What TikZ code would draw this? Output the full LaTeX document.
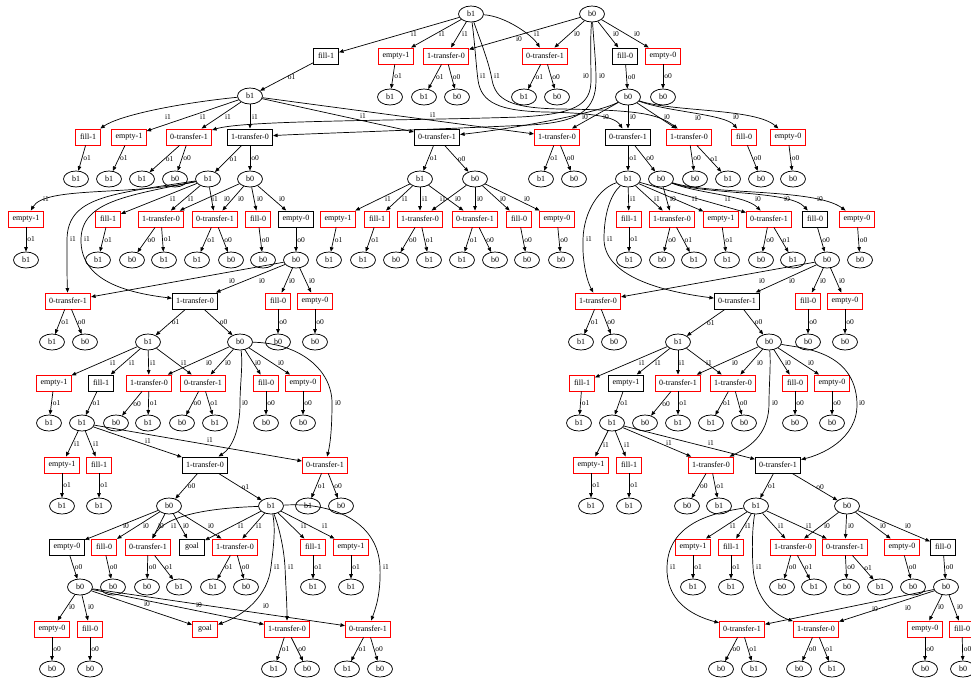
\documentclass[tikz,border=0pt]{standalone}
\usepackage{fontspec}
\setmainfont{Liberation Serif}
\usetikzlibrary{arrows.meta,shapes.geometric}
\newcommand\nfont{\fontsize{8}{9}\selectfont}
\newcommand\lfont{\fontsize{7.5}{8}\selectfont}
\newcommand\inE[4]{\draw[e] (#1) -- (#2) node[lb] at (#3) {#4};}
\newcommand\outE[3]{\draw[e] (#1) -- node[ol] {#3} (#2);}
\tikzset{
 st/.style={ellipse, draw, line width=0.75pt, minimum width=25pt, minimum height=16pt, inner sep=0pt, font=\nfont},
 bk/.style={rectangle, draw, line width=1pt, minimum width=25pt, minimum height=16pt, inner xsep=3.8pt, inner ysep=0pt, font=\nfont},
 rd/.style={bk, draw=red, line width=0.9pt},
 e/.style={-{Triangle[length=4.5pt,width=3.6pt]}, line width=0.7pt},
 lb/.style={font=\lfont, inner sep=0.5pt},
 ol/.style={lb, anchor=west, pos=0.5, xshift=0.5pt},
}
\begin{document}
\begin{tikzpicture}[x=1pt,y=-1pt]
\fill[white] (0,0) rectangle (971,678);
\useasboundingbox (0,0) rectangle (971,678);
% ---------- nodes: top ----------
\node[st] (R1) at (471,14) {b1};
\node[st] (R0) at (592,14) {b0};
\node[bk] (a1) at (326,56) {fill-1};
\node[rd] (a2) at (396,56) {empty-1};
\node[rd] (a3) at (446,56) {1-transfer-0};
\node[rd] (a4) at (545,56) {0-transfer-1};
\node[bk] (a5) at (625,56) {fill-0};
\node[rd] (a6) at (663,56) {empty-0};
\node[st] (L1) at (250,96) {b1};
\node[st] (s2) at (390,97) {b1};
\node[st] (s3a) at (424,97) {b1};
\node[st] (s3b) at (457,97) {b0};
\node[st] (s4a) at (524,97) {b1};
\node[st] (s4b) at (557,97) {b0};
\node[st] (M0) at (628,97) {b0};
\node[st] (s6) at (663,97) {b0};
\node[rd] (t1) at (88,137) {fill-1};
\node[rd] (t2) at (129,137) {empty-1};
\node[rd] (t3) at (189,137) {0-transfer-1};
\node[bk] (t4) at (250,137) {1-transfer-0};
\node[bk] (t5) at (437,137) {0-transfer-1};
\node[rd] (t6) at (557,137) {1-transfer-0};
\node[bk] (t7) at (628,137) {0-transfer-1};
\node[rd] (t8) at (689,137) {1-transfer-0};
\node[rd] (t9) at (744,137) {fill-0};
\node[rd] (t10) at (788,137) {empty-0};
\node[st] (q1) at (76,179) {b1};
\node[st] (q2) at (109,179) {b1};
\node[st] (q3a) at (142,179) {b1};
\node[st] (q3b) at (175,179) {b0};
\node[st] (A1) at (208,179) {b1};
\node[st] (A0) at (250,179) {b0};
\node[st] (B1) at (420,179) {b1};
\node[st] (B0) at (475,179) {b0};
\node[st] (q6a) at (541,179) {b1};
\node[st] (q6b) at (574,179) {b0};
\node[st] (C1) at (628,179) {b1};
\node[st] (C0) at (661,179) {b0};
\node[st] (q8a) at (695,179) {b0};
\node[st] (q8b) at (728,179) {b1};
\node[st] (q9) at (761,179) {b0};
\node[st] (q10) at (793,179) {b0};
% ---------- y=219 ----------
\node[rd] (Ae1) at (26,219) {empty-1};
\node[rd] (Af1) at (108,219) {fill-1};
\node[rd] (At10) at (161,219) {1-transfer-0};
\node[rd] (At01) at (215,219) {0-transfer-1};
\node[rd] (Af0) at (258,219) {fill-0};
\node[bk] (Ae0) at (296,219) {empty-0};
\node[rd] (Be1) at (338,219) {empty-1};
\node[rd] (Bf1) at (377,219) {fill-1};
\node[rd] (Bt10) at (420,219) {1-transfer-0};
\node[rd] (Bt01) at (475,219) {0-transfer-1};
\node[rd] (Bf0) at (519,219) {fill-0};
\node[rd] (Be0) at (557,219) {empty-0};
\node[rd] (Cf1) at (629,219) {fill-1};
\node[rd] (Ct10) at (672,219) {1-transfer-0};
\node[rd] (Ce1) at (721,219) {empty-1};
\node[rd] (Ct01) at (769,219) {0-transfer-1};
\node[bk] (Cf0) at (815,219) {fill-0};
\node[rd] (Ce0) at (857,219) {empty-0};
% ---------- y=260 ----------
\node[st] (r1) at (26,260) {b1};
\node[st] (r2) at (98,260) {b1};
\node[st] (r3a) at (132,260) {b0};
\node[st] (r3b) at (164,260) {b1};
\node[st] (r4a) at (197,260) {b1};
\node[st] (r4b) at (231,260) {b0};
\node[st] (r5) at (263,260) {b0};
\node[st] (A0b) at (296,260) {b0};
\node[st] (u1) at (329,260) {b1};
\node[st] (u2) at (363,260) {b1};
\node[st] (u3a) at (396,260) {b0};
\node[st] (u3b) at (429,260) {b1};
\node[st] (u4a) at (462,260) {b1};
\node[st] (u4b) at (495,260) {b0};
\node[st] (u5) at (527,260) {b0};
\node[st] (u6) at (561,260) {b0};
\node[st] (v1) at (629,260) {b1};
\node[st] (v2a) at (662,260) {b0};
\node[st] (v2b) at (694,260) {b1};
\node[st] (v3) at (727,260) {b1};
\node[st] (v4a) at (761,260) {b0};
\node[st] (v4b) at (793,260) {b1};
\node[st] (C0b) at (827,260) {b0};
\node[st] (v6) at (860,260) {b0};
% ---------- y=301 ----------
\node[rd] (A5t01) at (68,301) {0-transfer-1};
\node[bk] (A5t10) at (195,301) {1-transfer-0};
\node[rd] (A5f0) at (278,301) {fill-0};
\node[rd] (A5e0) at (315,301) {empty-0};
\node[rd] (C5t10) at (598,301) {1-transfer-0};
\node[bk] (C5t01) at (737,301) {0-transfer-1};
\node[rd] (C5f0) at (808,301) {fill-0};
\node[rd] (C5e0) at (845,301) {empty-0};
% ---------- y=342 ----------
\node[st] (w1) at (52,342) {b1};
\node[st] (w2) at (85,342) {b0};
\node[st] (A21) at (148,342) {b1};
\node[st] (A20) at (240,342) {b0};
\node[st] (w5) at (278,342) {b0};
\node[st] (w6) at (315,342) {b0};
\node[st] (x1) at (581,342) {b1};
\node[st] (x2) at (614,342) {b0};
\node[st] (C21) at (678,342) {b1};
\node[st] (C20) at (769,342) {b0};
\node[st] (x5) at (808,342) {b0};
\node[st] (x6) at (845,342) {b0};
% ---------- y=383 ----------
\node[rd] (A6e1) at (54,383) {empty-1};
\node[bk] (A6f1) at (101,383) {fill-1};
\node[rd] (A6t10) at (149,383) {1-transfer-0};
\node[rd] (A6t01) at (203,383) {0-transfer-1};
\node[rd] (A6f0) at (266,383) {fill-0};
\node[rd] (A6e0) at (303,383) {empty-0};
\node[rd] (C6f1) at (582,383) {fill-1};
\node[bk] (C6e1) at (626,383) {empty-1};
\node[rd] (C6t01) at (678,383) {0-transfer-1};
\node[rd] (C6t10) at (733,383) {1-transfer-0};
\node[rd] (C6f0) at (795,383) {fill-0};
\node[rd] (C6e0) at (832,383) {empty-0};
% ---------- y=423 ----------
\node[st] (y1) at (49,423) {b1};
\node[st] (A31) at (82,423) {b1};
\node[st] (y3a) at (116,423) {b0};
\node[st] (y3b) at (148,423) {b1};
\node[st] (y4a) at (182,423) {b0};
\node[st] (y4b) at (215,423) {b1};
\node[st] (y5) at (266,423) {b0};
\node[st] (y6) at (303,423) {b0};
\node[st] (z1) at (579,423) {b1};
\node[st] (C31) at (612,423) {b1};
\node[st] (z3a) at (645,423) {b0};
\node[st] (z3b) at (678,423) {b1};
\node[st] (z4a) at (711,423) {b1};
\node[st] (z4b) at (744,423) {b0};
\node[st] (z5) at (795,423) {b0};
\node[st] (z6) at (832,423) {b0};
% ---------- y=465 ----------
\node[rd] (A7e1) at (62,465) {empty-1};
\node[rd] (A7f1) at (99,465) {fill-1};
\node[bk] (A7t10) at (205,465) {1-transfer-0};
\node[rd] (A7t01) at (325,465) {0-transfer-1};
\node[rd] (C7e1) at (591,465) {empty-1};
\node[rd] (C7f1) at (629,465) {fill-1};
\node[rd] (C7t10) at (711,465) {1-transfer-0};
\node[bk] (C7t01) at (778,465) {0-transfer-1};
% ---------- y=506 ----------
\node[st] (g1) at (62,506) {b1};
\node[st] (g2) at (99,506) {b1};
\node[st] (A40) at (169,506) {b0};
\node[st] (A41) at (271,506) {b1};
\node[st] (g5) at (308,506) {b1};
\node[st] (g6) at (341,506) {b0};
\node[st] (h1) at (591,506) {b1};
\node[st] (h2) at (629,506) {b1};
\node[st] (h3) at (687,506) {b0};
\node[st] (h4) at (719,506) {b1};
\node[st] (C41) at (756,506) {b1};
\node[st] (C40) at (847,506) {b0};
% ---------- y=547 ----------
\node[bk] (A8e0) at (67,547) {empty-0};
\node[rd] (A8f0) at (104,547) {fill-0};
\node[rd] (A8t01) at (148,547) {0-transfer-1};
\node[bk] (A8g) at (192,547) {goal};
\node[rd] (A8t10) at (235,547) {1-transfer-0};
\node[rd] (A8f1) at (313,547) {fill-1};
\node[rd] (A8e1) at (351,547) {empty-1};
\node[rd] (C8e1) at (693,547) {empty-1};
\node[rd] (C8f1) at (731,547) {fill-1};
\node[rd] (C8t10) at (793,547) {1-transfer-0};
\node[rd] (C8t01) at (845,547) {0-transfer-1};
\node[rd] (C8e0) at (902,547) {empty-0};
\node[bk] (C8f0) at (943,547) {fill-0};
% ---------- y=587 ----------
\node[st] (A50) at (80,587) {b0};
\node[st] (k2) at (113,587) {b0};
\node[st] (k3a) at (147,587) {b0};
\node[st] (k3b) at (179,587) {b1};
\node[st] (k4a) at (213,587) {b1};
\node[st] (k4b) at (246,587) {b0};
\node[st] (k5) at (313,587) {b1};
\node[st] (k6) at (351,587) {b1};
\node[st] (m1) at (693,587) {b1};
\node[st] (m2) at (731,587) {b1};
\node[st] (m3a) at (782,587) {b0};
\node[st] (m3b) at (814,587) {b1};
\node[st] (m4a) at (847,587) {b0};
\node[st] (m4b) at (880,587) {b1};
\node[st] (m5) at (913,587) {b0};
\node[st] (C50) at (946,587) {b0};
% ---------- y=629 ----------
\node[rd] (A9e0) at (52,629) {empty-0};
\node[rd] (A9f0) at (90,629) {fill-0};
\node[rd] (A9g) at (205,629) {goal};
\node[rd] (A9t10) at (287,629) {1-transfer-0};
\node[rd] (A9t01) at (368,629) {0-transfer-1};
\node[rd] (C9t01) at (742,629) {0-transfer-1};
\node[rd] (C9t10) at (816,629) {1-transfer-0};
\node[rd] (C9e0) at (925,629) {empty-0};
\node[rd] (C9f0) at (962,629) {fill-0};
% ---------- y=669 ----------
\node[st] (n1) at (52,669) {b0};
\node[st] (n2) at (90,669) {b0};
\node[st] (n3a) at (274,669) {b1};
\node[st] (n3b) at (307,669) {b0};
\node[st] (n4a) at (347,669) {b1};
\node[st] (n4b) at (380,669) {b0};
\node[st] (p1a) at (721,669) {b0};
\node[st] (p1b) at (754,669) {b1};
\node[st] (p2a) at (799,669) {b0};
\node[st] (p2b) at (832,669) {b1};
\node[st] (p3) at (925,669) {b0};
\node[st] (p4) at (963,669) {b0};

% ================= edges: top =================
\inE{R1}{a1}{414,34}{i1}
\inE{R1}{a2}{442,34}{i1}
\inE{R1}{a3}{465,34}{i1}
\draw[e] (R1) .. controls (505,16) and (532,35) .. (a4) node[lb] at (537,34) {i1};
\inE{R0}{a3}{519,39}{i0}
\inE{R0}{a4}{577,34}{i0}
\inE{R0}{a5}{616,34}{i0}
\inE{R0}{a6}{637,34}{i0}
\outE{a1}{L1}{o1}
\outE{a2}{s2}{o1}
\outE{a3}{s3a}{o1}
\outE{a3}{s3b}{o0}
\outE{a4}{s4a}{o1}
\outE{a4}{s4b}{o0}
\outE{a5}{M0}{o0}
\outE{a6}{s6}{o0}
% long curves from the roots
\draw[e] (R1) .. controls (475,45) and (476,65) .. (478,80) .. controls (481,103) and (500,111) .. (545,112) .. controls (595,113) and (615,117) .. (t7) node[lb] at (483,76) {i1};
\draw[e] (R1) .. controls (480,40) and (489,62) .. (492,80) .. controls (496,100) and (510,108) .. (560,109) .. controls (640,110) and (658,114) .. (t8) node[lb] at (497,76) {i1};
\draw[e] (R0) .. controls (590,45) and (591,62) .. (591,80) .. controls (591,105) and (575,114) .. (520,117) .. controls (400,121) and (245,120) .. (t3) node[lb] at (586,76) {i0};
\draw[e] (R0) .. controls (594,45) and (596,62) .. (596,80) .. controls (596,110) and (580,122) .. (530,125) .. controls (420,130) and (300,134) .. (t4) node[lb] at (602,76) {i0};
% from M0
\draw[e] (M0) .. controls (600,112) and (520,128) .. (t5) node[lb] at (585,117) {i0};
\inE{M0}{t6}{606,117}{i0}
\inE{M0}{t7}{633,117}{i0}
\inE{M0}{t8}{667,117}{i0}
\draw[e] (M0) .. controls (668,112) and (725,114) .. (t9) node[lb] at (698,118) {i0};
\draw[e] (M0) .. controls (672,112) and (755,108) .. (t10) node[lb] at (736,117) {i0};
% from L1
\draw[e] (L1) .. controls (180,103) and (120,115) .. (t1) node[lb] at (168,117) {i1};
\inE{L1}{t2}{203,117}{i1}
\inE{L1}{t3}{228,117}{i1}
\inE{L1}{t4}{255,117}{i1}
\inE{L1}{t5}{363,116}{i1}
\inE{L1}{t6}{433,115}{i1}
% outputs of level 3
\outE{t1}{q1}{o1}
\outE{t2}{q2}{o1}
\outE{t3}{q3a}{o1}
\outE{t3}{q3b}{o0}
\outE{t4}{A1}{o1}
\outE{t4}{A0}{o0}
\outE{t5}{B1}{o1}
\outE{t5}{B0}{o0}
\outE{t6}{q6a}{o1}
\outE{t6}{q6b}{o0}
\outE{t7}{C1}{o1}
\outE{t7}{C0}{o0}
\outE{t8}{q8a}{o0}
\outE{t8}{q8b}{o1}
\outE{t9}{q9}{o0}
\outE{t10}{q10}{o0}

% ================= subtree A =================
\draw[e] (A1) .. controls (130,196) and (45,186) .. (Ae1) node[lb] at (46,199) {i1};
\inE{A1}{Af1}{173,199}{i1}
\inE{A1}{At10}{191,199}{i1}
\inE{A1}{At01}{215,199}{i1}
\inE{A0}{At10}{227,199}{i0}
\inE{A0}{At01}{241,199}{i0}
\inE{A0}{Af0}{260,199}{i0}
\inE{A0}{Ae0}{282,199}{i0}
\draw[e] (A1) .. controls (110,194) and (68,197) .. (67,239) .. controls (67,265) and (67,280) .. (A5t01) node[lb] at (73,239) {i1};
\draw[e] (A1) .. controls (125,196) and (82,202) .. (81,239) .. controls (80,278) and (120,292) .. (A5t10) node[lb] at (87,239) {i1};
\outE{Ae1}{r1}{o1}
\outE{Af1}{r2}{o1}
\outE{At10}{r3a}{o0}
\outE{At10}{r3b}{o1}
\outE{At01}{r4a}{o1}
\outE{At01}{r4b}{o0}
\outE{Af0}{r5}{o0}
\outE{Ae0}{A0b}{o0}
\inE{A0b}{A5t01}{232,281}{i0}
\inE{A0b}{A5t10}{262,281}{i0}
\inE{A0b}{A5f0}{292,281}{i0}
\inE{A0b}{A5e0}{312,281}{i0}
\outE{A5t01}{w1}{o1}
\outE{A5t01}{w2}{o0}
\outE{A5t10}{A21}{o1}
\outE{A5t10}{A20}{o0}
\outE{A5f0}{w5}{o0}
\outE{A5e0}{w6}{o0}
\inE{A21}{A6e1}{113,363}{i1}
\inE{A21}{A6f1}{132,363}{i1}
\inE{A21}{A6t10}{153,363}{i1}
\inE{A21}{A6t01}{184,363}{i1}
\inE{A20}{A6t10}{209,363}{i0}
\inE{A20}{A6t01}{228,363}{i0}
\inE{A20}{A6f0}{258,363}{i0}
\inE{A20}{A6e0}{281,363}{i0}
\draw[e] (A20) .. controls (243,365) and (240,385) .. (240,403) .. controls (240,430) and (232,448) .. (A7t10) node[lb] at (245,403) {i0};
\draw[e] (A20) .. controls (300,343) and (332,370) .. (332,403) .. controls (332,430) and (330,445) .. (A7t01) node[lb] at (338,403) {i0};
\outE{A6e1}{y1}{o1}
\outE{A6f1}{A31}{o1}
\outE{A6t10}{y3a}{o0}
\outE{A6t10}{y3b}{o1}
\outE{A6t01}{y4a}{o0}
\outE{A6t01}{y4b}{o1}
\outE{A6f0}{y5}{o0}
\outE{A6e0}{y6}{o0}
\inE{A31}{A7e1}{77,444}{i1}
\inE{A31}{A7f1}{96,444}{i1}
\inE{A31}{A7t10}{148,441}{i1}
\inE{A31}{A7t01}{210,440}{i1}
\outE{A7e1}{g1}{o1}
\outE{A7f1}{g2}{o1}
\outE{A7t10}{A40}{o0}
\outE{A7t10}{A41}{o1}
\outE{A7t01}{g5}{o1}
\outE{A7t01}{g6}{o0}
\inE{A40}{A8e0}{126,526}{i0}
\inE{A40}{A8f0}{146,526}{i0}
\inE{A40}{A8t01}{161,526}{i0}
\inE{A40}{A8g}{186,526}{i0}
\inE{A40}{A8t10}{211,526}{i0}
\draw[e] (A41) .. controls (210,508) and (165,515) .. (A8t01) node[lb] at (174,526) {i1};
\inE{A41}{A8g}{241,526}{i1}
\inE{A41}{A8t10}{259,526}{i1}
\inE{A41}{A8f1}{304,526}{i1}
\inE{A41}{A8e1}{325,526}{i1}
\draw[e] (A41) .. controls (276,530) and (273,550) .. (271,567) .. controls (268,595) and (245,615) .. (A9g) node[lb] at (277,567) {i1};
\draw[e] (A41) .. controls (280,530) and (284,550) .. (285,567) .. controls (286,590) and (287,605) .. (A9t10) node[lb] at (291,567) {i1};
\draw[e] (A41) .. controls (330,502) and (378,520) .. (380,567) .. controls (381,595) and (375,610) .. (A9t01) node[lb] at (386,567) {i1};
\outE{A8e0}{A50}{o0}
\outE{A8f0}{k2}{o0}
\outE{A8t01}{k3a}{o0}
\outE{A8t01}{k3b}{o1}
\outE{A8t10}{k4a}{o1}
\outE{A8t10}{k4b}{o0}
\outE{A8f1}{k5}{o1}
\outE{A8e1}{k6}{o1}
\inE{A50}{A9e0}{72,607}{i0}
\inE{A50}{A9f0}{91,607}{i0}
\inE{A50}{A9g}{147,604}{i0}
\inE{A50}{A9t10}{199,605}{i0}
\inE{A50}{A9t01}{266,606}{i0}
\outE{A9e0}{n1}{o0}
\outE{A9f0}{n2}{o0}
\outE{A9t10}{n3a}{o1}
\outE{A9t10}{n3b}{o0}
\outE{A9t01}{n4a}{o1}
\outE{A9t01}{n4b}{o0}

% ================= subtree B =================
\inE{B1}{Be1}{388,199}{i1}
\inE{B1}{Bf1}{405,199}{i1}
\inE{B1}{Bt10}{425,199}{i1}
\inE{B1}{Bt01}{443,199}{i1}
\inE{B0}{Bt10}{458,199}{i0}
\inE{B0}{Bt01}{480,199}{i0}
\inE{B0}{Bf0}{503,199}{i0}
\inE{B0}{Be0}{527,199}{i0}
\outE{Be1}{u1}{o1}
\outE{Bf1}{u2}{o1}
\outE{Bt10}{u3a}{o0}
\outE{Bt10}{u3b}{o1}
\outE{Bt01}{u4a}{o1}
\outE{Bt01}{u4b}{o0}
\outE{Bf0}{u5}{o0}
\outE{Be0}{u6}{o0}

% ================= subtree C =================
\inE{C1}{Cf1}{633,199}{i1}
\inE{C1}{Ct10}{657,199}{i1}
\inE{C0}{Ct10}{673,199}{i0}
\inE{C1}{Ce1}{695,199}{i1}
\inE{C1}{Ct01}{728,199}{i1}
\draw[e] (C0) .. controls (700,194) and (745,195) .. (Ct01) node[lb] at (758,199) {i0};
\draw[e] (C0) .. controls (705,195) and (790,190) .. (Cf0) node[lb] at (787,199) {i0};
\draw[e] (C0) .. controls (710,195) and (815,188) .. (Ce0) node[lb] at (820,199) {i0};
\draw[e] (C1) .. controls (600,188) and (584,210) .. (583,239) .. controls (582,265) and (588,283) .. (C5t10) node[lb] at (589,239) {i1};
\draw[e] (C1) .. controls (610,195) and (604,215) .. (604,239) .. controls (604,272) and (650,290) .. (C5t01) node[lb] at (610,239) {i1};
\outE{Cf1}{v1}{o1}
\outE{Ct10}{v2a}{o0}
\outE{Ct10}{v2b}{o1}
\outE{Ce1}{v3}{o1}
\outE{Ct01}{v4a}{o0}
\outE{Ct01}{v4b}{o1}
\outE{Cf0}{C0b}{o0}
\outE{Ce0}{v6}{o0}
\inE{C0b}{C5t10}{762,281}{i0}
\inE{C0b}{C5t01}{792,281}{i0}
\inE{C0b}{C5f0}{823,281}{i0}
\inE{C0b}{C5e0}{842,281}{i0}
\outE{C5t10}{x1}{o1}
\outE{C5t10}{x2}{o0}
\outE{C5t01}{C21}{o1}
\outE{C5t01}{C20}{o0}
\outE{C5f0}{x5}{o0}
\outE{C5e0}{x6}{o0}
\inE{C21}{C6f1}{642,363}{i1}
\inE{C21}{C6e1}{658,363}{i1}
\inE{C21}{C6t01}{682,363}{i1}
\inE{C21}{C6t10}{709,363}{i1}
\inE{C20}{C6t01}{735,363}{i0}
\inE{C20}{C6t10}{760,363}{i0}
\inE{C20}{C6f0}{788,363}{i0}
\inE{C20}{C6e0}{811,363}{i0}
\draw[e] (C20) .. controls (771,365) and (769,385) .. (769,403) .. controls (769,430) and (755,445) .. (C7t10) node[lb] at (775,403) {i0};
\draw[e] (C20) .. controls (800,348) and (855,350) .. (857,403) .. controls (858,440) and (820,455) .. (C7t01) node[lb] at (862,403) {i0};
\outE{C6f1}{z1}{o1}
\outE{C6e1}{C31}{o1}
\outE{C6t01}{z3a}{o0}
\outE{C6t01}{z3b}{o1}
\outE{C6t10}{z4a}{o1}
\outE{C6t10}{z4b}{o0}
\outE{C6f0}{z5}{o0}
\outE{C6e0}{z6}{o0}
\inE{C31}{C7e1}{606,445}{i1}
\inE{C31}{C7f1}{627,445}{i1}
\inE{C31}{C7t10}{669,443}{i1}
\inE{C31}{C7t01}{711,443}{i1}
\outE{C7e1}{h1}{o1}
\outE{C7f1}{h2}{o1}
\outE{C7t10}{h3}{o0}
\outE{C7t10}{h4}{o1}
\outE{C7t01}{C41}{o1}
\outE{C7t01}{C40}{o0}
\inE{C41}{C8e1}{733,526}{i1}
\inE{C41}{C8f1}{748,526}{i1}
\inE{C41}{C8t10}{781,526}{i1}
\inE{C41}{C8t01}{809,526}{i1}
\inE{C40}{C8t10}{827,526}{i0}
\inE{C40}{C8t01}{851,526}{i0}
\inE{C40}{C8e0}{883,526}{i0}
\inE{C40}{C8f0}{908,526}{i0}
\draw[e] (C41) .. controls (720,512) and (668,520) .. (667,567) .. controls (666,600) and (690,615) .. (C9t01) node[lb] at (673,567) {i1};
\draw[e] (C41) .. controls (752,530) and (752,550) .. (753,567) .. controls (755,600) and (775,615) .. (C9t10) node[lb] at (759,567) {i1};
\outE{C8e1}{m1}{o1}
\outE{C8f1}{m2}{o1}
\outE{C8t10}{m3a}{o0}
\outE{C8t10}{m3b}{o1}
\outE{C8t01}{m4a}{o0}
\outE{C8t01}{m4b}{o1}
\outE{C8e0}{m5}{o0}
\outE{C8f0}{C50}{o0}
\inE{C50}{C9t01}{875,609}{i0}
\inE{C50}{C9t10}{908,608}{i0}
\inE{C50}{C9e0}{941,607}{i0}
\inE{C50}{C9f0}{960,607}{i0}
\outE{C9t01}{p1a}{o0}
\outE{C9t01}{p1b}{o1}
\outE{C9t10}{p2a}{o0}
\outE{C9t10}{p2b}{o1}
\outE{C9e0}{p3}{o0}
\outE{C9f0}{p4}{o0}
\end{tikzpicture}
\end{document}
